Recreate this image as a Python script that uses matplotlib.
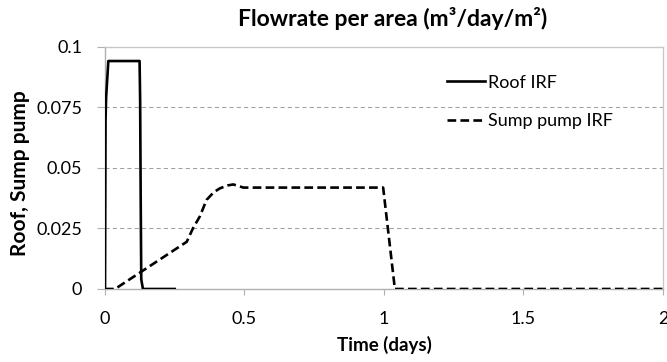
import matplotlib
matplotlib.use('Agg')
import matplotlib.pyplot as plt

plt.rcParams['font.family'] = ['Lato', 'DejaVu Sans']

# Roof IRF (m3/day/m2 vs time in days)
roof_t = [0.0, 0.002, 0.004, 0.012, 0.124, 0.126, 0.128, 0.130, 0.136, 0.25]
roof_q = [0.0, 0.070, 0.079, 0.0942, 0.0942, 0.078, 0.037, 0.004, 0.0, 0.0]

# Sump pump IRF
sump_t = [0.0, 0.036, 0.293, 0.315, 0.34, 0.364, 0.39, 0.412, 0.44, 0.46,
          0.48, 0.496, 0.997, 1.039, 2.0]
sump_q = [0.0, 0.0, 0.0195, 0.025, 0.030, 0.0368, 0.040, 0.0416, 0.0428,
          0.0432, 0.0425, 0.0419, 0.0419, 0.0, 0.0]

x_ticks = [0, 0.5, 1, 1.5, 2]
x_labels = ['0', '0.5', '1', '1.5', '2']
y_ticks = [0, 0.025, 0.05, 0.075, 0.1]
y_labels = ['0', '0.025', '0.05', '0.075', '0.1']

AXIS_GREY = '#b0b0b0'
GRID_GREY = '#a0a0a0'

fig = plt.figure(figsize=(6.67, 3.62), dpi=100)
ax = fig.add_axes([0.1574, 0.2017, 0.8366, 0.6685])

# horizontal dashed grid (the 0.1 line is drawn by the top spine)
for y in y_ticks[1:-1]:
    ax.axhline(y, color=GRID_GREY, lw=0.75, ls=(0, (4, 3)), zorder=1)

ax.plot(roof_t, roof_q, color='black', lw=1.9, label='Roof IRF', zorder=3)
ax.plot(sump_t, sump_q, color='black', lw=1.9, ls=(0, (3.3, 1.6)),
        label='Sump pump IRF', zorder=3)

ax.set_xlim(0, 2)
ax.set_ylim(0, 0.1)
ax.set_xticks(x_ticks)
ax.set_xticklabels(x_labels, fontsize=13)
ax.set_yticks(y_ticks)
ax.set_yticklabels(y_labels, fontsize=13)
ax.tick_params(axis='x', direction='out', length=4.5, width=0.8,
               color=AXIS_GREY, pad=11.5)
ax.tick_params(axis='y', direction='out', length=5.8, width=0.8,
               color=AXIS_GREY, pad=10.5)

for side in ('top', 'right', 'left', 'bottom'):
    ax.spines[side].set_color(AXIS_GREY)
    ax.spines[side].set_linewidth(1.0)
ax.spines['top'].set_color('#c8c8c8')
ax.spines['right'].set_color('#c8c8c8')

ax.set_xlabel('Time (days)', fontsize=13.5, fontweight='bold', labelpad=6)
ax.set_ylabel('Roof, Sump pump', fontsize=15, fontweight='bold')
ax.yaxis.set_label_coords(-0.134, 0.48)
ax.set_title('Flowrate per area (m³/day/m²)', fontsize=16.5,
             fontweight='bold', x=0.515, pad=15)

ax.legend(loc='upper left', bbox_to_anchor=(0.613, 0.885), frameon=False,
          fontsize=13, borderpad=0, borderaxespad=0, handlelength=2.1,
          handletextpad=0.17, labelspacing=1.25)

fig.savefig('out.png', dpi=100)
